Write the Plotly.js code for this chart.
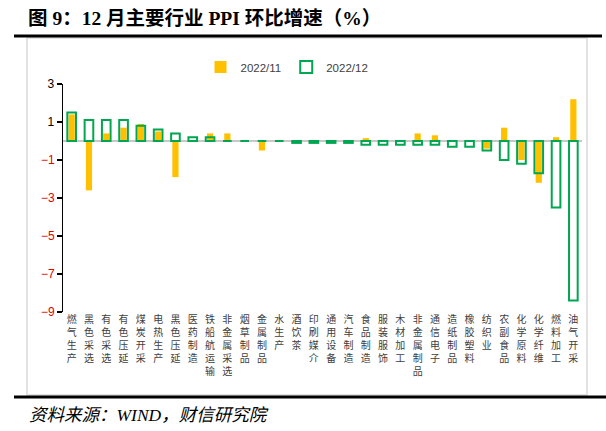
<!DOCTYPE html>
<html>
<head>
<meta charset="utf-8">
<script src="https://cdn.plot.ly/plotly-3.0.1.min.js"></script>
<style>html,body{margin:0;padding:0;background:#fff;}#chart{width:606px;height:431px;}</style>
</head>
<body>
<div id="chart"></div>
<script>
// ---- data ----
const categories = ["燃气生产","黑色采选","有色采选","有色压延","煤炭开采","电热生产","黑色压延","医药制造","铁船航运输","非金属采选",
  "烟草制品","金属制品","水生产","酒饮茶","印刷媒介","通用设备","汽车制造","食品制造","服装服饰","木材加工",
  "非金属制品","通信电子","造纸制品","橡胶塑料","纺织业","农副食品","化学原料","化学纤维","燃料加工","油气开采"];
const nov2022 = [1.4, -2.6, 0.4, 0.7, 0.9, 0.5, -1.9, 0.0, 0.4, 0.4,
  0.0, -0.5, -0.05, 0.0, -0.1, 0.05, 0.0, 0.15, 0.0, 0.0,
  0.4, 0.3, 0.0, -0.05, -0.4, 0.7, -1.0, -2.2, 0.2, 2.2];
const dec2022 = [1.5, 1.1, 1.1, 1.1, 0.8, 0.6, 0.4, 0.2, 0.2, 0.0,
  0.0, 0.0, 0.0, -0.1, -0.1, -0.1, -0.1, -0.2, -0.2, -0.2,
  -0.2, -0.2, -0.3, -0.3, -0.5, -1.0, -1.2, -1.7, -3.5, -8.4];
const seriesNames = ["2022/11", "2022/12"];
const yTicksPos = [3, 1];
const yTicksNeg = [-1, -3, -5, -7, -9];
const yRange = [-9, 3];

// ---- layout helpers ----
const W = 606, H = 431, M = {l: 63, r: 24, t: 84, b: 119};
const PW = W - M.l - M.r, PH = H - M.t - M.b;
const px2x = px => (px - M.l) / PW;
const px2y = py => (H - M.b - py) / PH;

const vertical = s => s.split("").join("<br>");

const traceDec = {
  type: "bar", name: seriesNames[1], x: categories, y: dec2022, width: 0.5,
  marker: {color: "rgba(255,255,255,0)", line: {color: "#00a651", width: 2}},
  legendrank: 2, hoverinfo: "x+y"
};
const traceNov = {
  type: "bar", name: seriesNames[0], x: categories, y: nov2022, width: 0.36,
  marker: {color: "#ffc000", line: {width: 0}},
  legendrank: 1, hoverinfo: "x+y"
};

const tickFontFamily = "Liberation Sans, Noto Sans CJK SC";
const layout = {
  width: W, height: H,
  margin: M,
  paper_bgcolor: "#fff", plot_bgcolor: "#fff",
  barmode: "overlay",
  showlegend: true,
  legend: {orientation: "h", x: px2x(287), xanchor: "center", y: px2y(67), yanchor: "middle",
    font: {family: tickFontFamily, size: 11.5, color: "#404040"},
    traceorder: "normal", itemwidth: 30},
  xaxis: {
    type: "category", range: [-0.5, categories.length - 0.5], autorange: false,
    showline: false, ticks: "", showgrid: false, zeroline: false,
    tickmode: "array", tickvals: categories, ticktext: categories.map(vertical),
    tickangle: 0,
    tickfont: {family: "Noto Sans CJK SC", size: 10, color: "#404040"}
  },
  yaxis: {
    range: yRange, tickmode: "array", tickvals: yTicksPos,
    showline: true, linecolor: "#000", linewidth: 1.5,
    ticks: "outside", ticklen: 5, tickcolor: "#000", tickwidth: 1.5,
    showgrid: false, zeroline: true, zerolinecolor: "#c8c8c8", zerolinewidth: 2,
    tickfont: {family: tickFontFamily, size: 12, color: "#000"}
  },
  yaxis2: {
    overlaying: "y", side: "left", range: yRange, tickmode: "array", tickvals: yTicksNeg,
    showline: false, ticks: "outside", ticklen: 5, tickcolor: "#000", tickwidth: 1.5,
    showgrid: false, zeroline: false,
    tickfont: {family: tickFontFamily, size: 12, color: "#e00000"}
  },
  shapes: [
    {type: "rect", xref: "paper", yref: "paper", x0: px2x(27), x1: px2x(587), y0: px2y(395), y1: px2y(38),
      line: {color: "#d9d9d9", width: 1.5}, fillcolor: "rgba(0,0,0,0)", layer: "below"},
    {type: "line", xref: "paper", yref: "paper", x0: px2x(14), x1: px2x(602), y0: px2y(36), y1: px2y(36),
      line: {color: "#000", width: 3}},
    {type: "line", xref: "paper", yref: "paper", x0: px2x(14), x1: px2x(606), y0: px2y(397), y1: px2y(397),
      line: {color: "#000", width: 3}}
  ],
  annotations: [
    {xref: "paper", yref: "paper", x: px2x(26), y: px2y(18), xanchor: "left", yanchor: "middle", showarrow: false,
      text: "<b>图 9：12 月主要行业 PPI 环比增速（%）</b>",
      font: {family: "Liberation Serif, Noto Sans CJK SC", size: 19.5, color: "#000"}},
    {xref: "paper", yref: "paper", x: px2x(27), y: px2y(415), xanchor: "left", yanchor: "middle", showarrow: false,
      text: "<i>资料来源：WIND，财信研究院</i>",
      font: {family: "Liberation Serif, Noto Sans CJK SC", size: 17.5, color: "#000"}}
  ]
};

// invisible helper trace so the red negative tick labels (yaxis2) are drawn
const axisHelper = {type: "scatter", x: [categories[0]], y: [null], yaxis: "y2", showlegend: false, hoverinfo: "skip", mode: "markers"};

Plotly.newPlot("chart", [traceNov, traceDec, axisHelper], layout, {displayModeBar: false, staticPlot: true});
</script>
</body>
</html>
